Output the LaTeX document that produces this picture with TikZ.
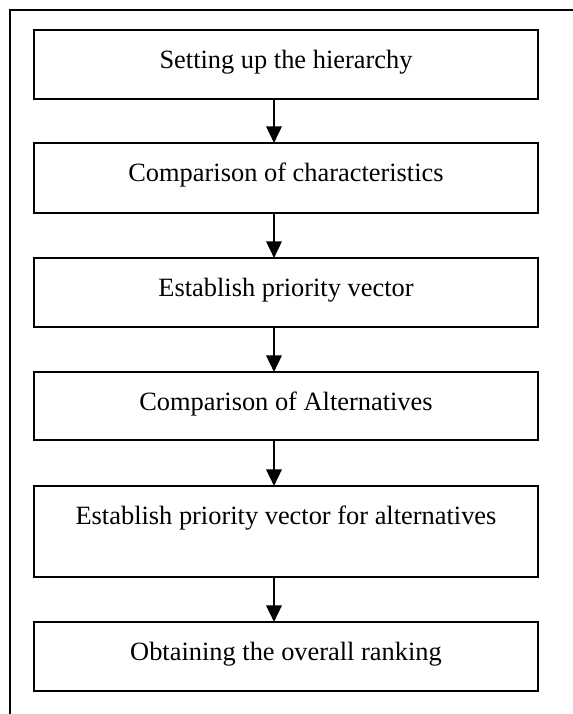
\documentclass[tikz,border=0pt]{standalone}
\usepackage{fontspec}
\setmainfont{Liberation Serif}
\usetikzlibrary{arrows.meta}
\begin{document}
\begin{tikzpicture}[x=0.75pt,y=-0.75pt,
  stepbox/.style n args={1}{draw, line width=1.4pt, minimum width=378pt, inner sep=0pt, outer sep=0pt,
    font=\fontsize{19.8}{24}\selectfont, text height=28.5pt, text depth=#1, anchor=north},
  arr/.style={line width=1.9pt, -{Triangle[width=11.5pt,length=12.5pt]}},
  frame/.style={line width=1.6pt}]
\useasboundingbox (0,0) rectangle (572,714);
\draw[frame] (10,716) -- (10,10) -- (574,10);
\node[stepbox=23.25pt] (b1) at (286,30) {Setting up the hierarchy};
\node[stepbox=24pt] (b2) at (286,143) {Comparison of characteristics};
\node[stepbox=23.25pt] (b3) at (286,258) {Establish priority vector};
\node[stepbox=22.5pt] (b4) at (286,372) {Comparison of Alternatives};
\node[stepbox=39.75pt] (b5) at (286,486) {Establish priority vector for alternatives};
\node[stepbox=23.25pt] (b6) at (286,622) {Obtaining the overall ranking};
\foreach \a/\b in {b1/b2,b2/b3,b3/b4,b4/b5,b5/b6}
  \draw[arr] ([xshift=-9pt]\a.south) -- ([xshift=-9pt]\b.north);
\end{tikzpicture}
\end{document}
